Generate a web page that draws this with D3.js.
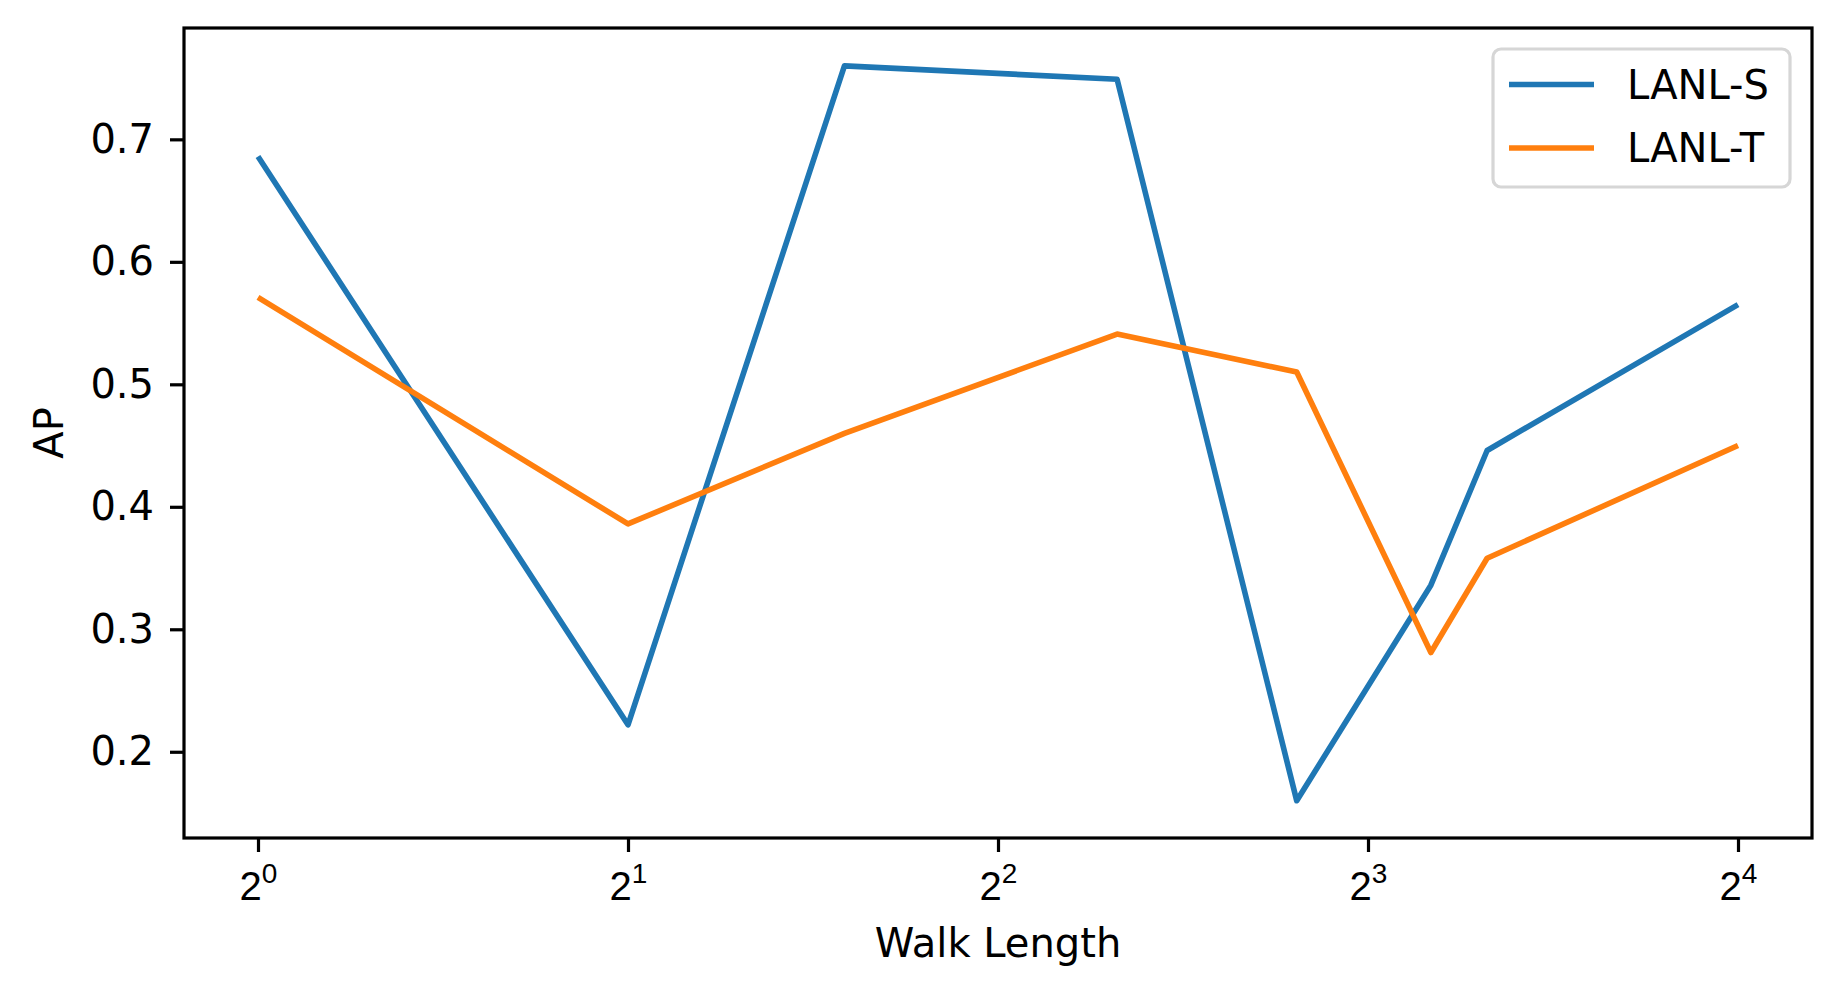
<!DOCTYPE html>
<html>
<head>
<meta charset="utf-8">
<script src="https://cdn.jsdelivr.net/npm/d3@7"></script>
<style>
  html, body { margin: 0; padding: 0; background: #fff; }
  svg { display: block; font-family: "DejaVu Sans", sans-serif; }
</style>
</head>
<body>
<svg id="chart" width="1841" height="998"></svg>
<script>
// ---- data ----
const walkLengths = [1, 2, 3, 5, 7, 9, 10, 16];
const lanlS = [0.686, 0.222, 0.760, 0.749, 0.160, 0.336, 0.446, 0.565];
const lanlT = [0.571, 0.386, 0.460, 0.541, 0.510, 0.281, 0.358, 0.450];
const seriesNames = ["LANL-S", "LANL-T"];
const seriesColors = ["#1f77b4", "#ff7f0e"];
const xTickValues = [1, 2, 4, 8, 16];
const xTickExponents = ["0", "1", "2", "3", "4"];
const yTickValues = [0.2, 0.3, 0.4, 0.5, 0.6, 0.7];
const xLabel = "Walk Length";
const yLabel = "AP";

// ---- layout ----
const svg = d3.select("#chart");
const plot = { left: 184, right: 1812, top: 28, bottom: 838 };
const fontSize = 40;
const tickLen = 14;
const tickW = 3.2;
const lineW = 5.6;

const x = d3.scaleLog().base(2)
  .domain([Math.pow(2, -0.2), Math.pow(2, 4.2)])
  .range([plot.left, plot.right]);
const y = d3.scaleLinear()
  .domain([0.1296, 0.7909])
  .range([plot.bottom, plot.top]);

// lines
const series = [lanlS, lanlT];
const line = d3.line()
  .x((d, i) => x(walkLengths[i]))
  .y(d => y(d));

const g = svg.append("g");
series.forEach((vals, si) => {
  g.append("path")
    .datum(vals)
    .attr("d", line)
    .attr("fill", "none")
    .attr("stroke", seriesColors[si])
    .attr("stroke-width", lineW)
    .attr("stroke-linejoin", "round")
    .attr("stroke-linecap", "butt");
});

// frame
svg.append("rect")
  .attr("x", plot.left).attr("y", plot.top)
  .attr("width", plot.right - plot.left)
  .attr("height", plot.bottom - plot.top)
  .attr("fill", "none")
  .attr("stroke", "#000")
  .attr("stroke-width", tickW);

// x axis
const xAxis = d3.axisBottom(x)
  .tickValues(xTickValues)
  .tickSize(tickLen)
  .tickFormat(() => "");
const xg = svg.append("g")
  .attr("transform", `translate(0,${plot.bottom})`)
  .call(xAxis);
xg.select(".domain").remove();
xg.selectAll(".tick line").attr("stroke", "#000").attr("stroke-width", tickW);
xg.selectAll(".tick text").remove();
xg.selectAll(".tick").each(function(d, i) {
  const t = d3.select(this).append("text")
    .attr("y", 62)
    .attr("text-anchor", "middle")
    .attr("fill", "#000")
    .attr("font-size", fontSize);
  t.append("tspan").text("2");
  t.append("tspan")
    .attr("font-size", fontSize * 0.7)
    .attr("dy", -17)
    .text(xTickExponents[i]);
});

// y axis
const yAxis = d3.axisLeft(y)
  .tickValues(yTickValues)
  .tickSize(tickLen)
  .tickPadding(16)
  .tickFormat(d3.format(".1f"));
const yg = svg.append("g")
  .attr("transform", `translate(${plot.left},0)`)
  .call(yAxis);
yg.select(".domain").remove();
yg.selectAll(".tick line").attr("stroke", "#000").attr("stroke-width", tickW);
yg.selectAll(".tick text")
  .attr("font-size", fontSize)
  .attr("fill", "#000")
  .attr("font-family", "DejaVu Sans, sans-serif");

// axis labels
svg.append("text")
  .attr("x", (plot.left + plot.right) / 2)
  .attr("y", 957)
  .attr("text-anchor", "middle")
  .attr("font-size", fontSize)
  .attr("fill", "#000")
  .text(xLabel);
svg.append("text")
  .attr("transform", `translate(63,${(plot.top + plot.bottom) / 2}) rotate(-90)`)
  .attr("text-anchor", "middle")
  .attr("font-size", fontSize)
  .attr("fill", "#000")
  .text(yLabel);

// legend
const legend = svg.append("g").attr("transform", "translate(1493,49)");
legend.append("rect")
  .attr("width", 297).attr("height", 138)
  .attr("rx", 8).attr("ry", 8)
  .attr("fill", "#fff").attr("fill-opacity", 0.8)
  .attr("stroke", "#d6d6d6").attr("stroke-width", 3.2);
seriesNames.forEach((name, i) => {
  const yy = 35.5 + i * 63.5;
  legend.append("line")
    .attr("x1", 16).attr("x2", 101)
    .attr("y1", yy).attr("y2", yy)
    .attr("stroke", seriesColors[i])
    .attr("stroke-width", lineW)
    .attr("stroke-linecap", "butt");
  legend.append("text")
    .attr("x", 134).attr("y", yy + 14)
    .attr("font-size", fontSize)
    .attr("fill", "#000")
    .text(name);
});
</script>
</body>
</html>
